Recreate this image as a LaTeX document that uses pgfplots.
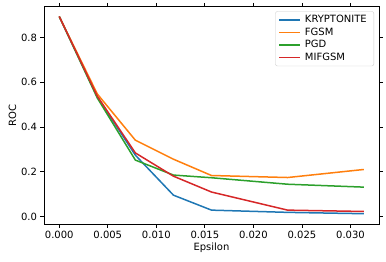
\documentclass[border=0pt]{standalone}
\usepackage{pgfplots}
\pgfplotsset{compat=1.18}
\usepackage{fontspec}
\setmainfont{DejaVu Sans}
\definecolor{tabblue}{HTML}{1F77B4}
\definecolor{taborange}{HTML}{FF7F0E}
\definecolor{tabgreen}{HTML}{2CA02C}
\definecolor{tabred}{HTML}{D62728}
\begin{document}
\fontsize{10}{12}\selectfont
\begin{tikzpicture}
\begin{axis}[
  scale only axis,
  width=335pt, height=218pt,
  xmin=-0.00157, xmax=0.03294,
  ymin=-0.0354, ymax=0.9405,
  axis line style={line width=0.8pt},
  tick align=outside,
  major tick length=3.5pt,
  every tick/.style={black, line width=0.8pt},
  tick label style={font=\fontsize{10}{12}\selectfont},
  xtick={0,0.005,0.01,0.015,0.02,0.025,0.03},
  ytick={0,0.2,0.4,0.6,0.8},
  xticklabels={0.000,0.005,0.010,0.015,0.020,0.025,0.030},
  yticklabels={0.0,0.2,0.4,0.6,0.8},
  scaled x ticks=false,
  /pgf/number format/assume math mode=true,
  xlabel={Epsilon}, ylabel={ROC},
  label style={font=\fontsize{10}{12}\selectfont},
  xlabel style={yshift=3pt},
  ylabel style={yshift=-2pt},
  legend cell align=left,
  legend style={at={(1,1)}, anchor=north east, xshift=-5pt, yshift=-5pt,
    draw=black!20, rounded corners=2pt, fill=white, fill opacity=0.8, text opacity=1,
    font=\fontsize{10}{12}\selectfont, row sep=2.6pt, inner xsep=3pt, inner ysep=3.5pt,
    nodes={inner xsep=4pt, inner ysep=0.5pt}},
  legend image code/.code={\draw[#1, line width=1.5pt] (0pt,0pt) -- (21pt,0pt);},
  every axis plot/.append style={line width=1.5pt, line join=round},
]
\addplot[color=tabblue] coordinates {(0,0.895) (0.003922,0.535) (0.007843,0.274) (0.011765,0.095) (0.015686,0.028) (0.023529,0.018) (0.031373,0.012)};
\addplot[color=taborange] coordinates {(0,0.895) (0.003922,0.548) (0.007843,0.341) (0.011765,0.256) (0.015686,0.183) (0.023529,0.174) (0.031373,0.210)};
\addplot[color=tabgreen] coordinates {(0,0.895) (0.003922,0.530) (0.007843,0.252) (0.011765,0.185) (0.015686,0.173) (0.023529,0.144) (0.031373,0.131)};
\addplot[color=tabred] coordinates {(0,0.895) (0.003922,0.538) (0.007843,0.284) (0.011765,0.180) (0.015686,0.109) (0.023529,0.028) (0.031373,0.022)};
\legend{KRYPTONITE,FGSM,PGD,MIFGSM}
\end{axis}
\pgfresetboundingbox
\path[use as bounding box] (-44pt,-37.7pt) rectangle (342pt,224.3pt);
\end{tikzpicture}
\end{document}
